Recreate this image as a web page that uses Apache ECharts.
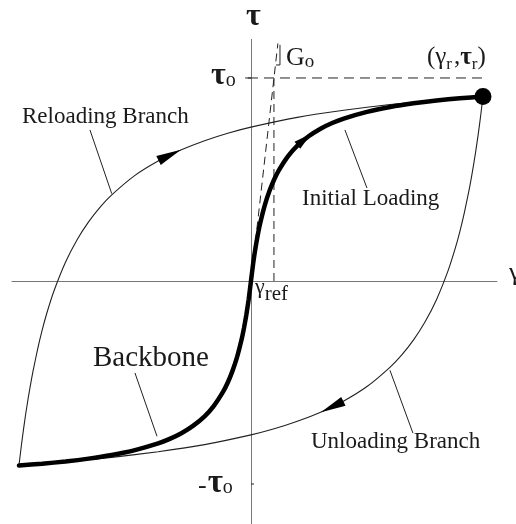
<!DOCTYPE html>
<html>
<head>
<meta charset="utf-8">
<script src="https://cdn.jsdelivr.net/npm/echarts@6/dist/echarts.min.js"></script>
<style>html,body{margin:0;padding:0;background:#fff}#main{width:516px;height:524px}</style>
</head>
<body>
<div id="main"></div>
<script>
// gamma in units of gamma_r, tau in units of tau_o
var bbGamma = [-1,-0.9,-0.8,-0.7,-0.6,-0.5,-0.4,-0.35,-0.3,-0.25,-0.2,-0.16,-0.12,-0.1,-0.08,-0.06,-0.04,-0.03,-0.02,-0.01,0,
               0.01,0.02,0.03,0.04,0.06,0.08,0.1,0.12,0.16,0.2,0.25,0.3,0.35,0.4,0.5,0.6,0.7,0.8,0.9,1];
var bbTau   = [-0.909,-0.9,-0.889,-0.875,-0.857,-0.833,-0.8,-0.778,-0.75,-0.714,-0.667,-0.615,-0.545,-0.5,-0.444,-0.375,-0.286,-0.231,-0.167,-0.091,0,
               0.091,0.167,0.231,0.286,0.375,0.444,0.5,0.545,0.615,0.667,0.714,0.75,0.778,0.8,0.833,0.857,0.875,0.889,0.9,0.909];
var reGamma = [-1,-0.99,-0.98,-0.97,-0.96,-0.95,-0.94,-0.92,-0.9,-0.88,-0.85,-0.8,-0.75,-0.7,-0.65,-0.6,-0.5,-0.4,-0.3,-0.2,-0.1,0,0.2,0.4,0.6,0.8,1];
var reTau   = [-0.909,-0.814,-0.727,-0.648,-0.576,-0.509,-0.448,-0.338,-0.242,-0.159,-0.052,0.091,0.202,0.291,0.364,0.424,0.52,0.591,0.646,0.691,0.728,0.758,0.806,0.841,0.869,0.891,0.909];
var unGamma = [1,0.99,0.98,0.97,0.96,0.95,0.94,0.92,0.9,0.88,0.85,0.8,0.75,0.7,0.65,0.6,0.5,0.4,0.3,0.2,0.1,0,-0.2,-0.4,-0.6,-0.8,-1];
var unTau   = [0.909,0.814,0.727,0.648,0.576,0.509,0.448,0.338,0.242,0.159,0.052,-0.091,-0.202,-0.291,-0.364,-0.424,-0.52,-0.591,-0.646,-0.691,-0.728,-0.758,-0.806,-0.841,-0.869,-0.891,-0.909];
var peak = [1, 0.909];
var gammaRef = 0.099;
var tauO = 1;
var arrowPts = [[-0.35, 0.62], [0.23, 0.697], [0.35, -0.62]];

function pairs(xs, ys) { return xs.map(function (x, i) { return [x, ys[i]]; }); }
function seg(pts, style) {
    return { type: 'line', data: pts, symbol: 'none', silent: true, lineStyle: style, z: 2 };
}
var thin = { color: '#222', width: 1 };
var dash = { color: '#222', width: 1, type: [10, 6] };

var FONT = 'Liberation Serif';
var mctx = document.createElement('canvas').getContext('2d');
function tw(s, size, bold) { mctx.font = (bold ? 'bold ' : '') + size + 'px "' + FONT + '"'; return mctx.measureText(s).width; }
// parts: [text, fontSize, baseline, extra gap, bold]
function seq(x, parts) {
    var out = [];
    parts.forEach(function (p) {
        out.push({ type: 'text', x: x, y: p[2] - 0.35 * p[1], silent: true,
            style: { text: p[0], fontSize: p[1], fontFamily: FONT, fontWeight: p[4] ? 'bold' : 'normal',
                     fill: '#1a1a1a', align: 'left', verticalAlign: 'middle' } });
        x += tw(p[0], p[1], p[4]) + (p[3] || 0);
    });
    return out;
}

var texts = [].concat(
    seq(246, [['τ', 32, 28, 0, true]]),
    seq(211, [['τ', 32, 87, 0, true], ['o', 20, 88]]),
    seq(198, [['-', 26, 495, 1], ['τ', 33, 495, 0, true], ['o', 20, 495]]),
    seq(286, [['G', 26, 67], ['o', 19, 69]]),
    seq(427, [['(', 25, 66], ['γ', 25, 66], ['r', 17, 70, 2], [',', 25, 66], ['τ', 25, 66, 0, true], ['r', 17, 70], [')', 25, 66]]),
    seq(255, [['γ', 22, 295], ['ref', 21, 302]]),
    seq(509, [['γ', 26, 282]]),
    seq(22, [['Reloading Branch', 23, 125]]),
    seq(302, [['Initial Loading', 23, 207]]),
    seq(93, [['Backbone', 29, 369]]),
    seq(311, [['Unloading Branch', 23, 450]])
);

var option = {
    animation: false,
    backgroundColor: '#fff',
    grid: { left: 12, top: 39.4, width: 484.9, height: 485.2, outerBoundsMode: 'none' },
    xAxis: {
        type: 'value', min: -1.03, max: 1.06,
        axisLine: { onZero: true, lineStyle: { color: '#777', width: 1 } },
        axisTick: { show: false }, axisLabel: { show: false }, splitLine: { show: false }
    },
    yAxis: {
        type: 'value', min: -1.2, max: 1.19,
        axisLine: { onZero: true, lineStyle: { color: '#777', width: 1 } },
        axisTick: { show: false }, axisLabel: { show: false }, splitLine: { show: false }
    },
    graphic: texts,
    series: [
        // dashed construction lines
        seg([[-0.013, tauO], [1.01, tauO]], dash),
        seg([[0, 0], [0.116, 1.17]], { color: '#222', width: 1, type: [8, 5] }),
        seg([[gammaRef, 0], [gammaRef, tauO]], { color: '#222', width: 1, type: [8, 5] }),
        seg([[0.125, 1.163], [0.125, 1.064], [0.108, 1.064]], thin),
        seg([[-0.025, tauO], [0, tauO]], thin),
        seg([[0, -tauO], [0.013, -tauO]], thin),
        // leader lines
        seg([[-0.694, 0.744], [-0.6, 0.43]], thin),
        seg([[0.405, 0.744], [0.5, 0.458]], thin),
        seg([[-0.5, -0.453], [-0.405, -0.765]], thin),
        seg([[0.599, -0.44], [0.698, -0.749]], thin),
        // branches
        { type: 'line', name: 'Reloading Branch', data: pairs(reGamma, reTau), symbol: 'none', smooth: 0.2,
          lineStyle: { color: '#222', width: 1.1 }, z: 3 },
        { type: 'line', name: 'Unloading Branch', data: pairs(unGamma, unTau), symbol: 'none', smooth: 0.2,
          lineStyle: { color: '#222', width: 1.1 }, z: 3 },
        { type: 'line', name: 'Backbone', data: pairs(bbGamma, bbTau), symbol: 'none', smooth: 0.2,
          lineStyle: { color: '#000', width: 4.5, cap: 'round' }, z: 4 },
        // direction arrows
        { type: 'scatter', symbol: 'triangle', z: 5, itemStyle: { color: '#000', opacity: 1 },
          data: [
            { value: arrowPts[0], symbolSize: [10, 25], symbolRotate: -64 },
            { value: arrowPts[1], symbolSize: [9, 18], symbolRotate: -51 },
            { value: arrowPts[2], symbolSize: [10, 25], symbolRotate: 116 }
          ] },
        { type: 'scatter', data: [peak], symbolSize: 17, itemStyle: { color: '#000', opacity: 1 }, z: 6 }
    ]
};

var myChart = echarts.init(document.getElementById('main'));
myChart.setOption(option);
</script>
</body>
</html>
